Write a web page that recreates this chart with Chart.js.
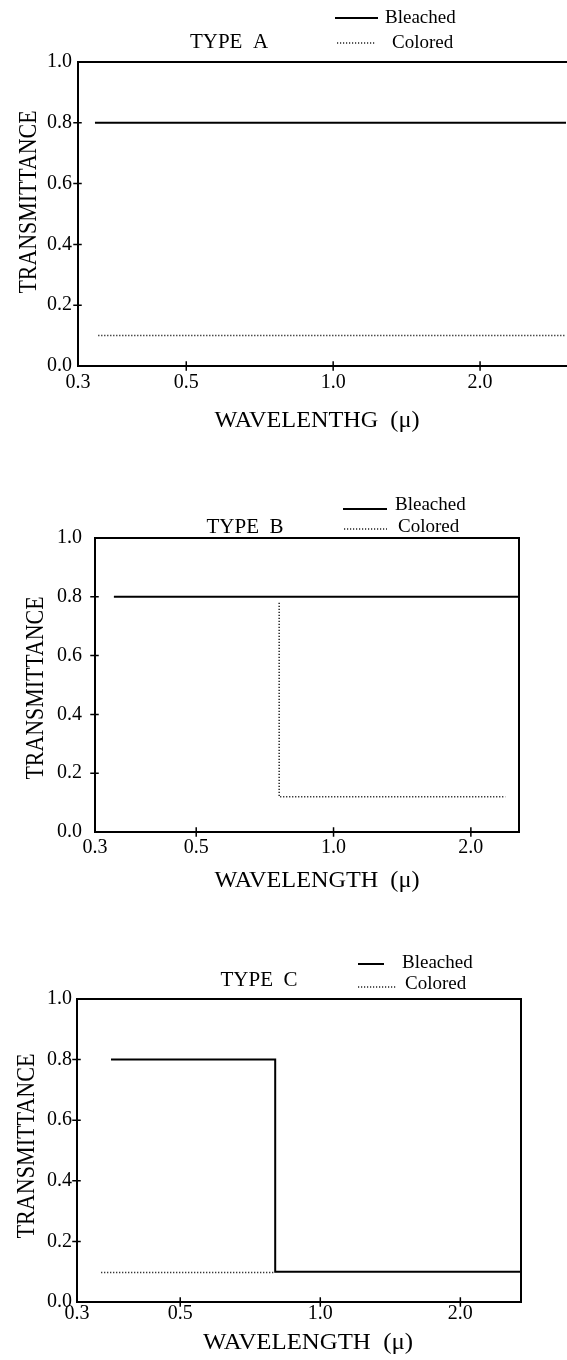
<!DOCTYPE html>
<html>
<head>
<meta charset="utf-8">
<script src="https://cdn.jsdelivr.net/npm/chart.js@4.4.1/dist/chart.umd.min.js"></script>
<style>
  html, body { margin: 0; padding: 0; background: #fff; }
  #wrap { position: relative; width: 567px; height: 1360px; overflow: hidden; background: #fff; }
  canvas { position: absolute; left: 0; }
</style>
</head>
<body>
<div id="wrap">
  <canvas id="panelA" width="567" height="450" style="top:0px;width:567px;height:450px"></canvas>
  <canvas id="panelB" width="567" height="460" style="top:450px;width:567px;height:460px"></canvas>
  <canvas id="panelC" width="567" height="450" style="top:910px;width:567px;height:450px"></canvas>
</div>
<script>
// Axis ticks shared by all three panels
const wavelengthTicks = [0.3, 0.5, 1.0, 2.0];
const wavelengthLabels = ['0.3', '0.5', '1.0', '2.0'];
const transmittanceTicks = [0.0, 0.2, 0.4, 0.6, 0.8, 1.0];
const transmittanceLabels = ['0.0', '0.2', '0.4', '0.6', '0.8', '1.0'];
const seriesNames = ['Bleached', 'Colored'];

// Type A: neutral filter, both states flat
const typeABleachedWl = [0.325, 3.0];
const typeABleached = [0.8, 0.8];
const typeAColoredWl = [0.33, 3.0];
const typeAColored = [0.1, 0.1];

// Type B: coloring only absorbs beyond the edge
const typeBBleachedWl = [0.33, 2.55];
const typeBBleached = [0.8, 0.8];
const typeBColoredWl = [0.76, 0.76, 2.38];
const typeBColored = [0.78, 0.12, 0.12];

// Type C: bleached state cuts off beyond the edge
const typeCBleachedWl = [0.355, 0.8, 0.8, 2.7];
const typeCBleached = [0.8, 0.8, 0.1, 0.1];
const typeCColoredWl = [0.338, 0.8];
const typeCColored = [0.097, 0.097];

const SERIF = '"Liberation Serif", "DejaVu Serif", serif';

function toPoints(xs, ys) {
  return xs.map((x, i) => ({ x: x, y: ys[i] }));
}

// Frame, crossing tick marks, titles and the small legend key
const panelDecor = {
  id: 'panelDecor',
  afterDatasetsDraw(chart, args, o) {
    const ctx = chart.ctx;
    const a = chart.chartArea;
    const xs = chart.scales.x;
    const ys = chart.scales.y;
    ctx.save();
    ctx.strokeStyle = '#000';
    ctx.lineWidth = 2;
    ctx.lineCap = 'square';
    ctx.beginPath();
    ctx.moveTo(a.left, a.top); ctx.lineTo(a.left, a.bottom);
    ctx.lineTo(a.right, a.bottom);
    ctx.moveTo(a.left, a.top); ctx.lineTo(a.right, a.top);
    if (o.rightBorder) { ctx.moveTo(a.right, a.top); ctx.lineTo(a.right, a.bottom); }
    ctx.stroke();

    ctx.lineWidth = 1.5;
    ctx.beginPath();
    wavelengthTicks.slice(1).forEach(v => {
      const px = xs.getPixelForValue(v);
      ctx.moveTo(px, a.bottom - 4); ctx.lineTo(px, a.bottom + 4);
    });
    transmittanceTicks.slice(1, -1).forEach(v => {
      const py = ys.getPixelForValue(v);
      ctx.moveTo(a.left - 4, py); ctx.lineTo(a.left + 3, py);
    });
    ctx.stroke();
    ctx.restore();
  },
  afterDraw(chart, args, o) {
    const ctx = chart.ctx;
    ctx.save();
    ctx.fillStyle = '#000';
    ctx.textBaseline = 'middle';

    // panel title
    ctx.font = '21px ' + SERIF;
    ctx.textAlign = 'center';
    ctx.fillText(o.title, o.titleX, o.titleY);

    // legend key
    ctx.strokeStyle = '#000';
    ctx.lineWidth = 2;
    ctx.beginPath();
    ctx.moveTo(o.key[0].x0, o.key[0].y); ctx.lineTo(o.key[0].x1, o.key[0].y);
    ctx.stroke();
    ctx.strokeStyle = '#222';
    ctx.lineWidth = 1.4;
    ctx.setLineDash([1.2, 1.8]);
    ctx.beginPath();
    ctx.moveTo(o.key[1].x0, o.key[1].y); ctx.lineTo(o.key[1].x1, o.key[1].y);
    ctx.stroke();
    ctx.setLineDash([]);
    ctx.font = '19px ' + SERIF;
    ctx.textAlign = 'left';
    ctx.fillText(seriesNames[0], o.key[0].tx, o.key[0].ty);
    ctx.fillText(seriesNames[1], o.key[1].tx, o.key[1].ty);

    // x-axis title
    ctx.font = '24px ' + SERIF;
    ctx.textAlign = 'center';
    let w = ctx.measureText(o.xTitle).width;
    ctx.save();
    ctx.translate(o.xTitleX, o.xTitleY);
    ctx.scale(o.xTitleW / w, 1);
    ctx.fillText(o.xTitle, 0, 0);
    ctx.restore();

    // y-axis title
    ctx.font = '26px ' + SERIF;
    w = ctx.measureText(o.yTitle).width;
    ctx.save();
    ctx.translate(o.yTitleX, o.yTitleY);
    ctx.rotate(-Math.PI / 2);
    ctx.scale(o.yTitleW / w, 1);
    ctx.fillText(o.yTitle, 0, 0);
    ctx.restore();

    ctx.restore();
  }
};

function makePanel(id, p) {
  const canvas = document.getElementById(id);
  const H = canvas.height;
  return new Chart(canvas, {
    type: 'scatter',
    data: {
      datasets: [
        {
          label: seriesNames[0],
          data: toPoints(p.bleachedWl, p.bleached),
          showLine: true, pointRadius: 0,
          borderColor: '#000', borderWidth: 2,
          tension: 0
        },
        {
          label: seriesNames[1],
          data: toPoints(p.coloredWl, p.colored),
          showLine: true, pointRadius: 0,
          borderColor: '#222', borderWidth: 1.5,
          borderDash: [1.2, 1.8],
          tension: 0
        }
      ]
    },
    options: {
      responsive: false,
      animation: false,
      events: [],
      layout: { padding: { top: p.top, right: 567 - p.right, left: 0, bottom: 0 } },
      plugins: {
        legend: { display: false },
        tooltip: { enabled: false },
        title: { display: false },
        panelDecor: p.decor
      },
      scales: {
        x: {
          type: 'logarithmic',
          min: 0.3, max: p.xMax,
          grid: { display: false, drawTicks: false },
          border: { display: false },
          afterBuildTicks: axis => { axis.ticks = wavelengthTicks.map(v => ({ value: v })); },
          afterFit: axis => { axis.height = H - p.bottom; },
          ticks: {
            autoSkip: false, maxRotation: 0, minRotation: 0,
            padding: p.xPad,
            color: '#000',
            font: { family: SERIF, size: 20 },
            callback: (value, index) => wavelengthLabels[index]
          }
        },
        y: {
          min: 0, max: 1,
          grid: { display: false, drawTicks: false },
          border: { display: false },
          afterBuildTicks: axis => { axis.ticks = transmittanceTicks.map(v => ({ value: v })); },
          afterFit: axis => { axis.width = p.left; },
          ticks: {
            padding: p.yPad,
            color: '#000',
            font: { family: SERIF, size: 20 },
            callback: (value, index) => transmittanceLabels[index]
          }
        }
      }
    },
    plugins: [panelDecor]
  });
}

makePanel('panelA', {
  bleachedWl: typeABleachedWl, bleached: typeABleached,
  coloredWl: typeAColoredWl, colored: typeAColored,
  left: 78, right: 566, top: 62, bottom: 366, xMax: 3.0, xPad: 5, yPad: 6,
  decor: {
    rightBorder: false,
    title: 'TYPE  A', titleX: 229, titleY: 42,
    key: [
      { x0: 335, x1: 378, y: 18, tx: 385, ty: 18 },
      { x0: 337, x1: 375, y: 43, tx: 392, ty: 43 }
    ],
    xTitle: 'WAVELENTHG  (\u03bc)', xTitleX: 317, xTitleY: 421, xTitleW: 205,
    yTitle: 'TRANSMITTANCE', yTitleX: 29, yTitleY: 202, yTitleW: 183
  }
});

makePanel('panelB', {
  bleachedWl: typeBBleachedWl, bleached: typeBBleached,
  coloredWl: typeBColoredWl, colored: typeBColored,
  left: 95, right: 519, top: 88, bottom: 382, xMax: 2.55, xPad: 4, yPad: 13,
  decor: {
    rightBorder: true,
    title: 'TYPE  B', titleX: 245, titleY: 77,
    key: [
      { x0: 343, x1: 387, y: 59, tx: 395, ty: 55 },
      { x0: 344, x1: 387, y: 79, tx: 398, ty: 77 }
    ],
    xTitle: 'WAVELENGTH  (\u03bc)', xTitleX: 317, xTitleY: 431, xTitleW: 205,
    yTitle: 'TRANSMITTANCE', yTitleX: 36, yTitleY: 238, yTitleW: 183
  }
});

makePanel('panelC', {
  bleachedWl: typeCBleachedWl, bleached: typeCBleached,
  coloredWl: typeCColoredWl, colored: typeCColored,
  left: 77, right: 521, top: 89, bottom: 392, xMax: 2.7, xPad: 0, yPad: 5,
  decor: {
    rightBorder: true,
    title: 'TYPE  C', titleX: 259, titleY: 70,
    key: [
      { x0: 358, x1: 384, y: 54, tx: 402, ty: 53 },
      { x0: 358, x1: 397, y: 77, tx: 405, ty: 74 }
    ],
    xTitle: 'WAVELENGTH  (\u03bc)', xTitleX: 308, xTitleY: 433, xTitleW: 210,
    yTitle: 'TRANSMITTANCE', yTitleX: 27, yTitleY: 236, yTitleW: 185
  }
});
</script>
</body>
</html>
